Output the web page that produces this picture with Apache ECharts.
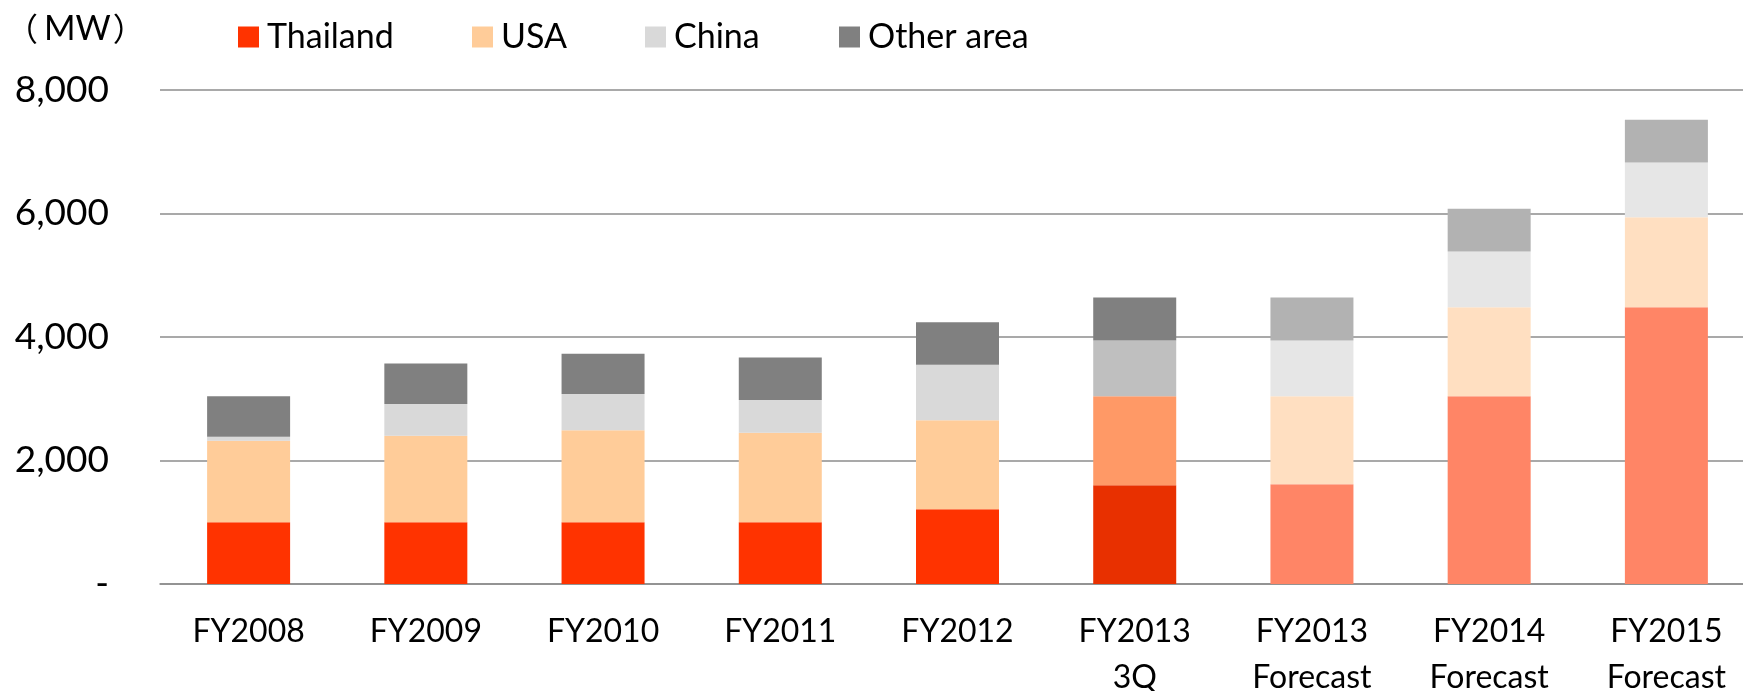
<!DOCTYPE html>
<html>
<head>
<meta charset="utf-8">
<script src="https://cdn.jsdelivr.net/npm/echarts@6/dist/echarts.min.js"></script>
<style>
  html, body { margin: 0; padding: 0; background: #fff; }
  #chart { width: 1743px; height: 691px; }
</style>
</head>
<body>
<div id="chart"></div>
<script>
// values in MW
const categories = ['FY2008', 'FY2009', 'FY2010', 'FY2011', 'FY2012', 'FY2013\n3Q', 'FY2013\nForecast', 'FY2014\nForecast', 'FY2015\nForecast']
const thailand = [1000, 1000, 1000, 1000, 1210, 1600, 1615, 3040, 4480]
const usa = [1320, 1400, 1490, 1450, 1440, 1440, 1425, 1440, 1460]
const china = [65, 515, 585, 530, 900, 905, 905, 905, 885]
const other = [655, 655, 655, 690, 690, 695, 695, 690, 695]
const yTicks = [0, 2000, 4000, 6000, 8000]

// base / 3Q actual / forecast shades per region
const palette = {
  'Thailand': { base: '#FF3300', q3: '#E83000', forecast: '#FF8566' },
  'USA': { base: '#FFCC99', q3: '#FF9966', forecast: '#FFDFC1' },
  'China': { base: '#D9D9D9', q3: '#BFBFBF', forecast: '#E6E6E6' },
  'Other area': { base: '#808080', q3: '#808080', forecast: '#B2B2B2' }
}
const legendLeft = { 'Thailand': 238, 'USA': 472, 'China': 645, 'Other area': 839 }

const font = 'Lato, "Noto Sans CJK JP", sans-serif'
const cjkFont = '"Noto Sans CJK JP", sans-serif'
const gridColor = '#8c8c8c'

function kind(cat) {
  if (cat.indexOf('Forecast') >= 0) return 'forecast'
  if (cat.indexOf('3Q') >= 0) return 'q3'
  return 'base'
}

function makeSeries(name, values) {
  return {
    name: name,
    type: 'bar',
    stack: 'total',
    barWidth: 83,
    itemStyle: { color: palette[name].base },
    emphasis: { disabled: true },
    data: values.map(function(v, i) {
      return { value: v, itemStyle: { color: palette[name][kind(categories[i])] } }
    })
  }
}

const chart = echarts.init(document.getElementById('chart'))
chart.setOption({
  animation: false,
  textStyle: { fontFamily: font },
  graphic: [{
    type: 'text',
    left: 6,
    top: 12,
    style: {
      text: '{p|（}{m|MW}{p|）}',
      fill: '#000',
      rich: {
        p: { fontSize: 32, fontFamily: cjkFont },
        m: { fontSize: 34, fontFamily: font, padding: [0, 2, 0, 6] }
      }
    }
  }],
  legend: Object.keys(palette).map(function(name) {
    return {
      data: [name],
      left: legendLeft[name],
      top: 20,
      padding: 0,
      icon: 'rect',
      itemWidth: 21,
      itemHeight: 21,
      textStyle: { fontSize: 34, color: '#000', fontFamily: font, padding: [0, 0, 0, 3] }
    }
  }),
  grid: {
    left: 160,
    top: 90,
    width: 1595,
    height: 494,
    outerBoundsMode: 'none',
    containLabel: false
  },
  xAxis: {
    type: 'category',
    data: categories,
    axisTick: { show: false },
    axisLine: { lineStyle: { color: gridColor, width: 1.6 } },
    axisLabel: {
      interval: 0,
      fontSize: 32,
      lineHeight: 46,
      margin: 25,
      color: '#000',
      fontFamily: font
    }
  },
  yAxis: {
    type: 'value',
    min: yTicks[0],
    max: yTicks[yTicks.length - 1],
    interval: yTicks[1] - yTicks[0],
    axisLine: { show: false },
    axisTick: { show: false },
    splitLine: { lineStyle: { color: gridColor, width: 1.6 } },
    axisLabel: {
      fontSize: 37,
      margin: 51,
      color: '#000',
      fontFamily: font,
      formatter: function(value) {
        return value === 0 ? '-' : value.toLocaleString('en-US')
      }
    }
  },
  series: [
    makeSeries('Thailand', thailand),
    makeSeries('USA', usa),
    makeSeries('China', china),
    makeSeries('Other area', other)
  ]
})
</script>
</body>
</html>
